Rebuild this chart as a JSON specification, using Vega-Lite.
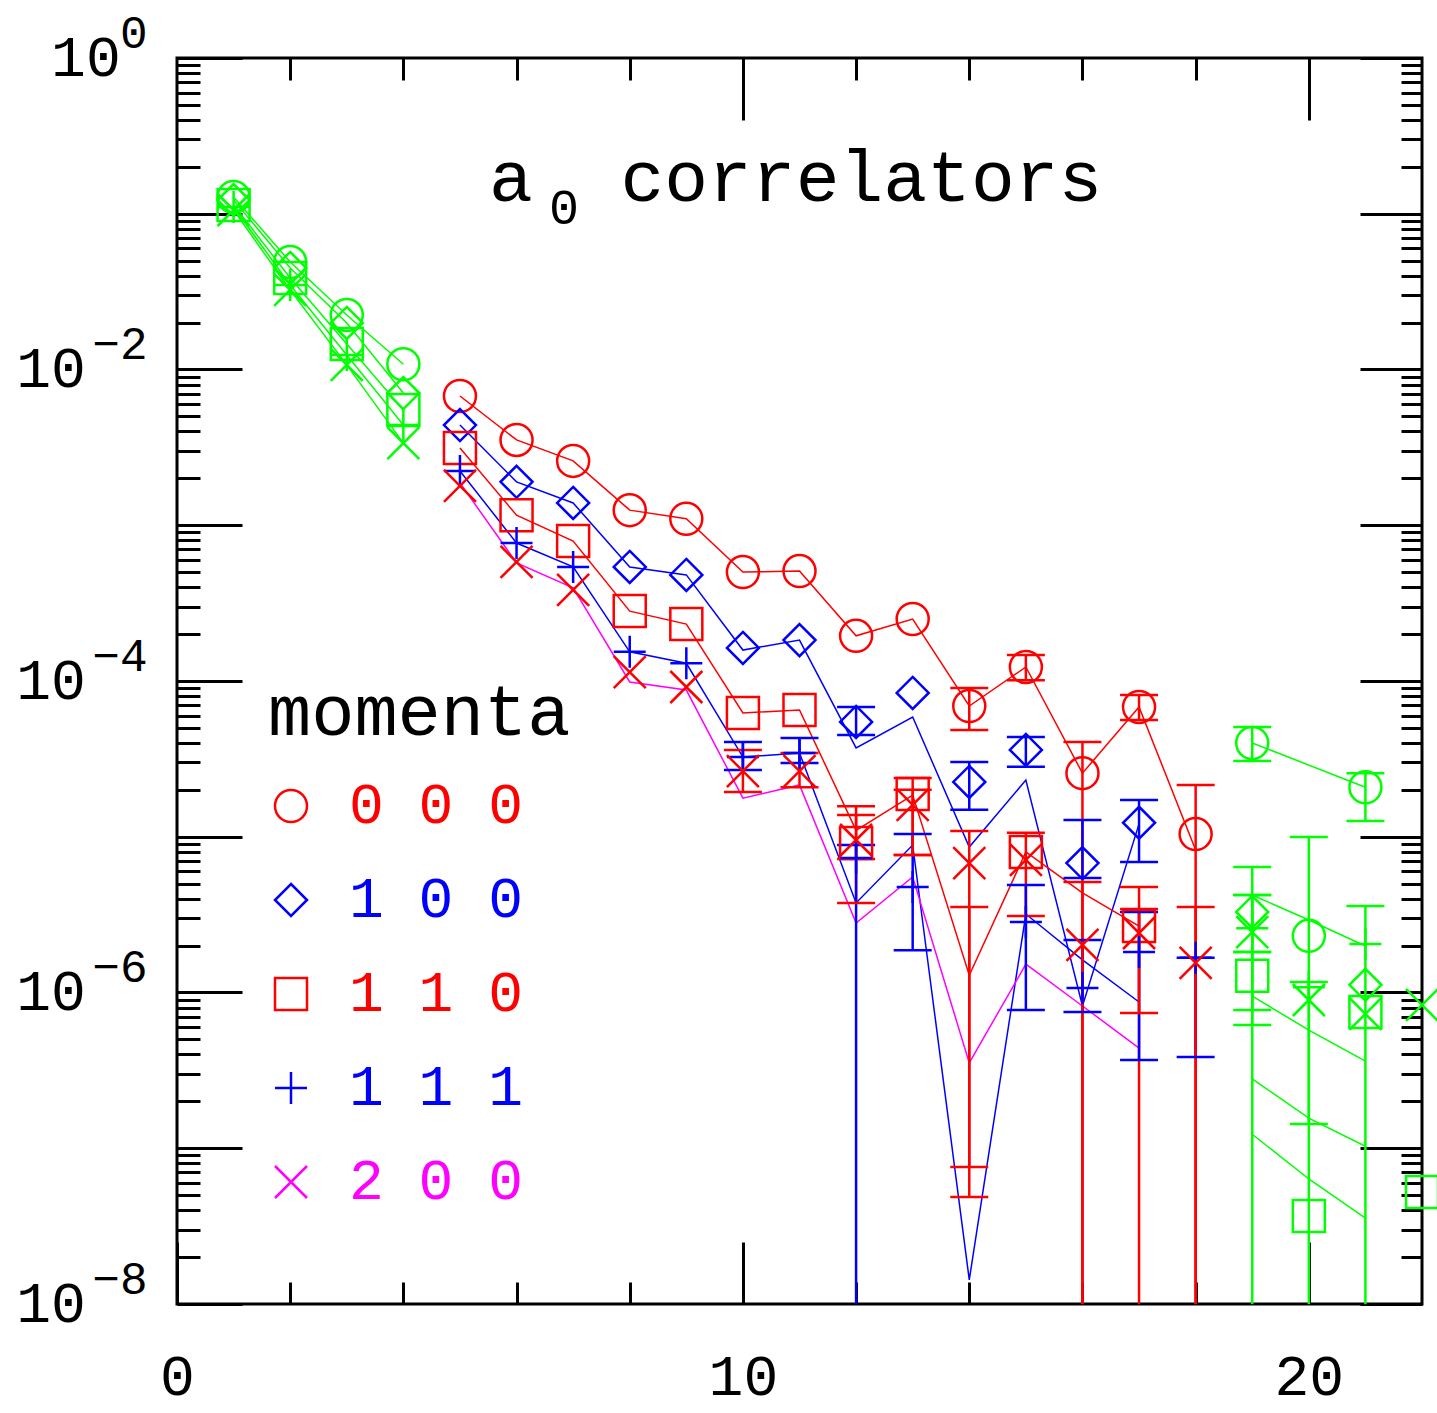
{
  "$schema": "https://vega.github.io/schema/vega-lite/v6.json",
  "width": 1245,
  "height": 1246,
  "autosize": "none",
  "padding": {"left": 177, "top": 58, "right": 15, "bottom": 109},
  "background": "white",
  "title": {
    "text": "a\u00a0\u00a0correlators",
    "subtitle": "\u200b\u00a0\u00a00",
    "anchor": "start",
    "frame": "group",
    "orient": "top",
    "font": "Liberation Mono",
    "fontSize": 73,
    "fontWeight": "normal",
    "color": "black",
    "subtitleFont": "Liberation Mono",
    "subtitleFontSize": 50,
    "subtitleColor": "black",
    "subtitlePadding": -32,
    "offset": -224,
    "dx": 312
  },
  "config": {
    "view": {"stroke": "black", "strokeWidth": 3},
    "axis": {"grid": false, "domain": false, "tickColor": "black", "tickWidth": 3, "labelColor": "black", "labelFont": "Liberation Mono", "labelOverlap": false, "labelFlush": false, "labelBound": false}
  },
  "datasets": {
    "pts": [
      {"s": "0 0 0", "t": 1, "v": 0.128, "seg": "early"},
      {"s": "0 0 0", "t": 2, "v": 0.049, "seg": "early"},
      {"s": "0 0 0", "t": 3, "v": 0.0224, "seg": "early"},
      {"s": "0 0 0", "t": 4, "v": 0.0108, "seg": "early"},
      {"s": "1 0 0", "t": 1, "v": 0.1225, "seg": "early"},
      {"s": "1 0 0", "t": 2, "v": 0.0449, "seg": "early"},
      {"s": "1 0 0", "t": 3, "v": 0.0199, "seg": "early"},
      {"s": "1 0 0", "t": 4, "v": 0.00706, "seg": "early"},
      {"s": "1 1 0", "t": 1, "v": 0.114, "seg": "early"},
      {"s": "1 1 0", "t": 2, "v": 0.0387, "seg": "early"},
      {"s": "1 1 0", "t": 3, "v": 0.0146, "seg": "early"},
      {"s": "1 1 0", "t": 4, "v": 0.0055, "seg": "early"},
      {"s": "1 1 1", "t": 1, "v": 0.1105, "seg": "early"},
      {"s": "1 1 1", "t": 2, "v": 0.0349, "seg": "early"},
      {"s": "1 1 1", "t": 3, "v": 0.0124, "seg": "early"},
      {"s": "1 1 1", "t": 4, "v": 0.0044, "seg": "early"},
      {"s": "2 0 0", "t": 1, "v": 0.1057, "seg": "early"},
      {"s": "2 0 0", "t": 2, "v": 0.0324, "seg": "early"},
      {"s": "2 0 0", "t": 3, "v": 0.0107, "seg": "early"},
      {"s": "2 0 0", "t": 4, "v": 0.00337, "seg": "early"},

      {"s": "0 0 0", "t": 5, "v": 0.00676, "seg": "main"},
      {"s": "0 0 0", "t": 6, "v": 0.00353, "seg": "main"},
      {"s": "0 0 0", "t": 7, "v": 0.00259, "seg": "main"},
      {"s": "0 0 0", "t": 8, "v": 0.00125, "seg": "main"},
      {"s": "0 0 0", "t": 9, "v": 0.0011, "seg": "main"},
      {"s": "0 0 0", "t": 10, "v": 0.000501, "seg": "main"},
      {"s": "0 0 0", "t": 11, "v": 0.000508, "seg": "main"},
      {"s": "0 0 0", "t": 12, "v": 0.000195, "seg": "main"},
      {"s": "0 0 0", "t": 13, "v": 0.00025, "seg": "main"},
      {"s": "0 0 0", "t": 14, "v": 6.91e-5, "hi": 9.02e-5, "lo": 4.84e-5, "seg": "main"},
      {"s": "0 0 0", "t": 15, "v": 0.000123, "hi": 0.000147, "lo": 0.000101, "seg": "main"},
      {"s": "0 0 0", "t": 16, "v": 2.56e-5, "hi": 4.06e-5, "lo": 1e-9, "seg": "main"},
      {"s": "0 0 0", "t": 17, "v": 6.81e-5, "hi": 8.13e-5, "lo": 5.62e-5, "seg": "main"},
      {"s": "0 0 0", "t": 18, "v": 1.04e-5, "hi": 2.15e-5, "lo": 1e-9, "seg": "main"},

      {"s": "1 0 0", "t": 5, "v": 0.0044, "seg": "main"},
      {"s": "1 0 0", "t": 6, "v": 0.0019, "seg": "main"},
      {"s": "1 0 0", "t": 7, "v": 0.00139, "seg": "main"},
      {"s": "1 0 0", "t": 8, "v": 0.00054, "seg": "main"},
      {"s": "1 0 0", "t": 9, "v": 0.00048, "seg": "main"},
      {"s": "1 0 0", "t": 10, "v": 0.000163, "seg": "main"},
      {"s": "1 0 0", "t": 11, "v": 0.000183, "seg": "main"},
      {"s": "1 0 0", "t": 12, "v": 5.46e-5, "hi": 6.81e-5, "lo": 4.5e-5, "seg": "main"},
      {"s": "1 0 0", "t": 13, "v": 8.38e-5, "seg": "main"},
      {"s": "1 0 0", "t": 14, "v": 2.25e-5, "hi": 3.02e-5, "lo": 1.49e-5, "seg": "main"},
      {"s": "1 0 0", "t": 15, "v": 3.61e-5, "hi": 4.37e-5, "lo": 2.81e-5, "seg": "main"},
      {"s": "1 0 0", "t": 16, "v": 6.78e-6, "hi": 1.28e-5, "lo": 5.43e-6, "seg": "main"},
      {"s": "1 0 0", "t": 17, "v": 1.23e-5, "hi": 1.72e-5, "lo": 6.89e-6, "seg": "main"},

      {"s": "1 1 0", "t": 5, "v": 0.00313, "seg": "main"},
      {"s": "1 1 0", "t": 6, "v": 0.00116, "seg": "main"},
      {"s": "1 1 0", "t": 7, "v": 0.000792, "seg": "main"},
      {"s": "1 1 0", "t": 8, "v": 0.000281, "seg": "main"},
      {"s": "1 1 0", "t": 9, "v": 0.000232, "seg": "main"},
      {"s": "1 1 0", "t": 10, "v": 6.23e-5, "seg": "main"},
      {"s": "1 1 0", "t": 11, "v": 6.52e-5, "seg": "main"},
      {"s": "1 1 0", "t": 12, "v": 9.12e-6, "hi": 1.57e-5, "lo": 3.76e-6, "seg": "main"},
      {"s": "1 1 0", "t": 13, "v": 1.88e-5, "hi": 2.38e-5, "lo": 7.64e-6, "seg": "main"},
      {"s": "1 1 0", "t": 14, "v": null, "hi": 3.54e-6, "lo": 7.59e-8, "seg": "main"},
      {"s": "1 1 0", "t": 15, "v": 7.98e-6, "hi": 1.06e-5, "lo": 3.1e-6, "seg": "main"},
      {"s": "1 1 0", "t": 17, "v": 2.67e-6, "hi": 4.75e-6, "lo": 1e-9, "seg": "main"},

      {"s": "1 1 1", "t": 5, "v": 0.00223, "seg": "main"},
      {"s": "1 1 1", "t": 6, "v": 0.000769, "seg": "main"},
      {"s": "1 1 1", "t": 7, "v": 0.00054, "seg": "main"},
      {"s": "1 1 1", "t": 8, "v": 0.000154, "seg": "main"},
      {"s": "1 1 1", "t": 9, "v": 0.00013, "seg": "main"},
      {"s": "1 1 1", "t": 10, "v": 3.25e-5, "hi": 4.06e-5, "lo": 2.68e-5, "seg": "main"},
      {"s": "1 1 1", "t": 11, "v": 3.45e-5, "hi": 4.31e-5, "lo": 2.98e-5, "seg": "main"},
      {"s": "1 1 1", "t": 12, "v": 7.31e-6, "hi": 8.85e-6, "lo": 1e-9, "seg": "main"},
      {"s": "1 1 1", "t": 13, "v": 4.75e-6, "hi": 1.04e-5, "lo": 1.87e-6, "seg": "main"},
      {"s": "1 1 1", "t": 15, "v": 2.84e-6, "hi": 4.9e-6, "lo": 7.72e-7, "seg": "main"},
      {"s": "1 1 1", "t": 16, "v": 1.07e-6, "hi": 2.17e-6, "lo": 7.5e-7, "seg": "main"},
      {"s": "1 1 1", "t": 17, "v": 1.82e-6, "hi": 3.29e-6, "lo": 3.69e-7, "seg": "main"},
      {"s": "1 1 1", "t": 18, "v": 1.67e-6, "hi": 1.67e-6, "lo": 3.85e-7, "seg": "main"},

      {"s": "2 0 0", "t": 5, "v": 0.00179, "seg": "main"},
      {"s": "2 0 0", "t": 6, "v": 0.000581, "seg": "main"},
      {"s": "2 0 0", "t": 7, "v": 0.000384, "seg": "main"},
      {"s": "2 0 0", "t": 8, "v": 0.000114, "seg": "main"},
      {"s": "2 0 0", "t": 9, "v": 9.15e-5, "seg": "main"},
      {"s": "2 0 0", "t": 10, "v": 2.64e-5, "hi": 3.61e-5, "lo": 1.94e-5, "seg": "main"},
      {"s": "2 0 0", "t": 11, "v": 2.64e-5, "hi": 3.45e-5, "lo": 2.08e-5, "seg": "main"},
      {"s": "2 0 0", "t": 12, "v": 9.53e-6, "hi": 1.38e-5, "lo": 7.19e-6, "seg": "main"},
      {"s": "2 0 0", "t": 13, "v": 1.6e-5, "hi": 2e-5, "lo": 7.64e-6, "seg": "main"},
      {"s": "2 0 0", "t": 14, "v": 6.78e-6, "hi": 1.09e-5, "lo": 4.86e-8, "seg": "main"},
      {"s": "2 0 0", "t": 15, "v": 7.1e-6, "seg": "main"},
      {"s": "2 0 0", "t": 16, "v": 2.02e-6, "hi": 5.12e-6, "lo": 1e-9, "seg": "main"},
      {"s": "2 0 0", "t": 17, "v": 2.41e-6, "hi": 3.44e-6, "lo": 7.38e-7, "seg": "main"},
      {"s": "2 0 0", "t": 18, "v": 1.55e-6, "hi": 3.54e-6, "lo": 1e-9, "seg": "main"},

      {"s": "0 0 0", "t": 19, "v": 4.0e-5, "hi": 5.07e-5, "lo": 3.06e-5, "seg": "late"},
      {"s": "0 0 0", "t": 20, "v": 2.31e-6, "seg": "late"},
      {"s": "0 0 0", "t": 21, "v": 2.08e-5, "hi": 2.56e-5, "lo": 1.26e-5, "seg": "late"},
      {"s": "1 0 0", "t": 19, "v": 3.29e-6, "hi": 4.23e-6, "lo": 1.82e-6, "seg": "late"},
      {"s": "1 0 0", "t": 21, "v": 1.12e-6, "seg": "late"},
      {"s": "1 1 0", "t": 19, "v": 1.28e-6, "hi": 1.82e-6, "lo": 7.72e-7, "seg": "late"},
      {"s": "1 1 0", "t": 20, "v": 3.67e-8, "seg": "late"},
      {"s": "1 1 0", "t": 21, "v": 7.5e-7, "seg": "late"},
      {"s": "1 1 0", "t": 22, "v": 5.24e-8, "seg": "late"},
      {"s": "1 1 1", "t": 19, "v": 2.59e-6, "hi": 6.4e-6, "lo": 1e-9, "seg": "late"},
      {"s": "1 1 1", "t": 20, "v": 1.08e-6, "hi": 9.95e-6, "lo": 1e-9, "seg": "late"},
      {"s": "1 1 1", "t": 21, "v": 2.05e-6, "hi": 3.59e-6, "lo": 1e-9, "seg": "late"},
      {"s": "2 0 0", "t": 19, "v": 2.44e-6, "hi": 4.23e-6, "lo": 6.18e-7, "seg": "late"},
      {"s": "2 0 0", "t": 20, "v": 8.95e-7, "hi": 1.17e-6, "lo": 1.43e-7, "seg": "late"},
      {"s": "2 0 0", "t": 21, "v": 7.28e-7, "seg": "late"},
      {"s": "2 0 0", "t": 22, "v": 8.32e-7, "seg": "late"}
    ],
    "lines": [
      {"s": "0 0 0", "t": 1, "v": 0.128, "seg": "early"},
      {"s": "0 0 0", "t": 2, "v": 0.049, "seg": "early"},
      {"s": "0 0 0", "t": 3, "v": 0.0224, "seg": "early"},
      {"s": "0 0 0", "t": 4, "v": 0.0108, "seg": "early"},
      {"s": "1 0 0", "t": 1, "v": 0.1225, "seg": "early"},
      {"s": "1 0 0", "t": 2, "v": 0.0449, "seg": "early"},
      {"s": "1 0 0", "t": 3, "v": 0.0199, "seg": "early"},
      {"s": "1 0 0", "t": 4, "v": 0.00706, "seg": "early"},
      {"s": "1 1 0", "t": 1, "v": 0.114, "seg": "early"},
      {"s": "1 1 0", "t": 2, "v": 0.0387, "seg": "early"},
      {"s": "1 1 0", "t": 3, "v": 0.0146, "seg": "early"},
      {"s": "1 1 0", "t": 4, "v": 0.0055, "seg": "early"},
      {"s": "1 1 1", "t": 1, "v": 0.1105, "seg": "early"},
      {"s": "1 1 1", "t": 2, "v": 0.0349, "seg": "early"},
      {"s": "1 1 1", "t": 3, "v": 0.0124, "seg": "early"},
      {"s": "1 1 1", "t": 4, "v": 0.0044, "seg": "early"},
      {"s": "2 0 0", "t": 1, "v": 0.1057, "seg": "early"},
      {"s": "2 0 0", "t": 2, "v": 0.0324, "seg": "early"},
      {"s": "2 0 0", "t": 3, "v": 0.0107, "seg": "early"},
      {"s": "2 0 0", "t": 4, "v": 0.00337, "seg": "early"},

      {"s": "0 0 0", "t": 5, "v": 0.00676, "seg": "main"},
      {"s": "0 0 0", "t": 6, "v": 0.00353, "seg": "main"},
      {"s": "0 0 0", "t": 7, "v": 0.00259, "seg": "main"},
      {"s": "0 0 0", "t": 8, "v": 0.00125, "seg": "main"},
      {"s": "0 0 0", "t": 9, "v": 0.0011, "seg": "main"},
      {"s": "0 0 0", "t": 10, "v": 0.000501, "seg": "main"},
      {"s": "0 0 0", "t": 11, "v": 0.000508, "seg": "main"},
      {"s": "0 0 0", "t": 12, "v": 0.000195, "seg": "main"},
      {"s": "0 0 0", "t": 13, "v": 0.00025, "seg": "main"},
      {"s": "0 0 0", "t": 14, "v": 6.91e-5, "seg": "main"},
      {"s": "0 0 0", "t": 15, "v": 0.000123, "seg": "main"},
      {"s": "0 0 0", "t": 16, "v": 2.56e-5, "seg": "main"},
      {"s": "0 0 0", "t": 17, "v": 6.81e-5, "seg": "main"},
      {"s": "0 0 0", "t": 18, "v": 8.22e-6, "seg": "main"},

      {"s": "1 0 0", "t": 5, "v": 0.0044, "seg": "main"},
      {"s": "1 0 0", "t": 6, "v": 0.0019, "seg": "main"},
      {"s": "1 0 0", "t": 7, "v": 0.00139, "seg": "main"},
      {"s": "1 0 0", "t": 8, "v": 0.00054, "seg": "main"},
      {"s": "1 0 0", "t": 9, "v": 0.00048, "seg": "main"},
      {"s": "1 0 0", "t": 10, "v": 0.000158, "seg": "main"},
      {"s": "1 0 0", "t": 11, "v": 0.000183, "seg": "main"},
      {"s": "1 0 0", "t": 12, "v": 3.72e-5, "seg": "main"},
      {"s": "1 0 0", "t": 13, "v": 5.87e-5, "seg": "main"},
      {"s": "1 0 0", "t": 14, "v": 8.59e-6, "seg": "main"},
      {"s": "1 0 0", "t": 15, "v": 2.31e-5, "seg": "main"},
      {"s": "1 0 0", "t": 16, "v": 8.19e-7, "seg": "main"},
      {"s": "1 0 0", "t": 17, "v": 1.21e-5, "seg": "main"},

      {"s": "1 1 0", "t": 5, "v": 0.00313, "seg": "main"},
      {"s": "1 1 0", "t": 6, "v": 0.00116, "seg": "main"},
      {"s": "1 1 0", "t": 7, "v": 0.000792, "seg": "main"},
      {"s": "1 1 0", "t": 8, "v": 0.000281, "seg": "main"},
      {"s": "1 1 0", "t": 9, "v": 0.000232, "seg": "main"},
      {"s": "1 1 0", "t": 10, "v": 6.23e-5, "seg": "main"},
      {"s": "1 1 0", "t": 11, "v": 6.52e-5, "seg": "main"},
      {"s": "1 1 0", "t": 12, "v": 1.1e-5, "seg": "main"},
      {"s": "1 1 0", "t": 13, "v": 1.85e-5, "seg": "main"},
      {"s": "1 1 0", "t": 14, "v": 1.29e-6, "seg": "main"},
      {"s": "1 1 0", "t": 15, "v": 7.98e-6, "seg": "main"},
      {"s": "1 1 0", "t": 16, "v": 4.36e-6, "seg": "main"},
      {"s": "1 1 0", "t": 17, "v": 2.67e-6, "seg": "main"},

      {"s": "1 1 1", "t": 5, "v": 0.00223, "seg": "main"},
      {"s": "1 1 1", "t": 6, "v": 0.000769, "seg": "main"},
      {"s": "1 1 1", "t": 7, "v": 0.00054, "seg": "main"},
      {"s": "1 1 1", "t": 8, "v": 0.000154, "seg": "main"},
      {"s": "1 1 1", "t": 9, "v": 0.00013, "seg": "main"},
      {"s": "1 1 1", "t": 10, "v": 3.25e-5, "seg": "main"},
      {"s": "1 1 1", "t": 11, "v": 3.45e-5, "seg": "main"},
      {"s": "1 1 1", "t": 12, "v": 3.76e-6, "seg": "main"},
      {"s": "1 1 1", "t": 13, "v": 8.85e-6, "seg": "main"},
      {"s": "1 1 1", "t": 14, "v": 1.43e-8, "seg": "main"},
      {"s": "1 1 1", "t": 15, "v": 3.19e-6, "seg": "main"},
      {"s": "1 1 1", "t": 16, "v": 1.62e-6, "seg": "main"},
      {"s": "1 1 1", "t": 17, "v": 8.69e-7, "seg": "main"},

      {"s": "2 0 0", "t": 5, "v": 0.00187, "seg": "main"},
      {"s": "2 0 0", "t": 6, "v": 0.000573, "seg": "main"},
      {"s": "2 0 0", "t": 7, "v": 0.000396, "seg": "main"},
      {"s": "2 0 0", "t": 8, "v": 9.86e-5, "seg": "main"},
      {"s": "2 0 0", "t": 9, "v": 8.75e-5, "seg": "main"},
      {"s": "2 0 0", "t": 10, "v": 1.77e-5, "seg": "main"},
      {"s": "2 0 0", "t": 11, "v": 2.15e-5, "seg": "main"},
      {"s": "2 0 0", "t": 12, "v": 2.79e-6, "seg": "main"},
      {"s": "2 0 0", "t": 13, "v": 5.52e-6, "seg": "main"},
      {"s": "2 0 0", "t": 14, "v": 3.53e-7, "seg": "main"},
      {"s": "2 0 0", "t": 15, "v": 1.52e-6, "seg": "main"},
      {"s": "2 0 0", "t": 16, "v": 8.19e-7, "seg": "main"},
      {"s": "2 0 0", "t": 17, "v": 4.4e-7, "seg": "main"},

      {"s": "0 0 0", "t": 19, "v": 4.0e-5, "seg": "late"},
      {"s": "0 0 0", "t": 21, "v": 2.08e-5, "seg": "late"},
      {"s": "1 0 0", "t": 19, "v": 4.23e-6, "seg": "late"},
      {"s": "1 0 0", "t": 20, "v": 2.92e-6, "seg": "late"},
      {"s": "1 0 0", "t": 21, "v": 1.99e-6, "seg": "late"},
      {"s": "1 1 0", "t": 19, "v": 9.48e-7, "seg": "late"},
      {"s": "1 1 0", "t": 20, "v": 5.74e-7, "seg": "late"},
      {"s": "1 1 0", "t": 21, "v": 3.63e-7, "seg": "late"},
      {"s": "1 1 1", "t": 19, "v": 2.79e-7, "seg": "late"},
      {"s": "1 1 1", "t": 20, "v": 1.56e-7, "seg": "late"},
      {"s": "1 1 1", "t": 21, "v": 1.03e-7, "seg": "late"},
      {"s": "2 0 0", "t": 19, "v": 1.23e-7, "seg": "late"},
      {"s": "2 0 0", "t": 20, "v": 6.35e-8, "seg": "late"},
      {"s": "2 0 0", "t": 21, "v": 3.56e-8, "seg": "late"}
    ]
  },
  "resolve": {"axis": {"x": "independent", "y": "independent"}, "legend": {"color": "independent", "shape": "independent"}},
  "layer": [
    {
      "data": {"name": "lines"},
      "mark": {"type": "line", "strokeWidth": 1.5, "clip": false},
      "encoding": {
        "x": {"field": "t", "type": "quantitative", "scale": {"domain": [0, 22], "nice": false, "zero": false},
              "axis": {"orient": "bottom", "title": null, "values": [0, 10, 20], "tickSize": 62, "offset": -62, "labelPadding": 44, "labelFontSize": 58, "format": "d"}},
        "y": {"field": "v", "type": "quantitative", "scale": {"type": "log", "domain": [1e-8, 1], "nice": false},
              "axis": {"orient": "left", "title": null, "values": [1, 0.1, 0.01, 0.001, 0.0001, 1e-5, 1e-6, 1e-7, 1e-8], "tickSize": 65, "offset": -65, "labelPadding": 22, "labelFontSize": 58, "labelAlign": "right", "labelBaseline": "middle",
                       "labelExpr": "(abs(round(log(datum.value)/LN10)) % 2 == 1) ? '' : (datum.value > 0.5 ? '10\u00a0\u200b' : '10\u00a0\u00a0\u200b')"}},
        "color": {"field": "s", "type": "nominal", "legend": null,
                  "scale": {"domain": ["0 0 0", "1 0 0", "1 1 0", "1 1 1", "2 0 0"], "range": ["#ff0000", "#0000ff", "#ff0000", "#0000ff", "#ff00ff"]},
                  "condition": {"test": "datum.seg !== 'main'", "value": "#00ff00"}},
        "detail": {"field": "seg", "type": "nominal"}
      }
    },
    {
      "data": {"name": "pts"},
      "transform": [{"filter": "isValid(datum.hi)"}],
      "mark": {"type": "rule", "strokeWidth": 2.5, "clip": true},
      "encoding": {
        "x": {"field": "t", "type": "quantitative", "scale": {"domain": [0, 22], "nice": false, "zero": false},
              "axis": {"orient": "bottom", "title": null, "values": [2, 4, 6, 8, 12, 14, 16, 18], "tickSize": 22, "offset": -22, "labels": false}},
        "y": {"field": "hi", "type": "quantitative", "scale": {"type": "log", "domain": [1e-8, 1], "nice": false},
              "axis": {"orient": "left", "title": null, "labels": false, "tickSize": 23, "offset": -23,
                       "values": [0.9,0.8,0.7,0.6,0.5,0.4,0.3,0.2,0.09,0.08,0.07,0.06,0.05,0.04,0.03,0.02,0.009,0.008,0.007,0.006,0.005,0.004,0.003,0.002,0.0009,0.0008,0.0007,0.0006,0.0005,0.0004,0.0003,0.0002,9e-5,8e-5,7e-5,6e-5,5e-5,4e-5,3e-5,2e-5,9e-6,8e-6,7e-6,6e-6,5e-6,4e-6,3e-6,2e-6,9e-7,8e-7,7e-7,6e-7,5e-7,4e-7,3e-7,2e-7,9e-8,8e-8,7e-8,6e-8,5e-8,4e-8,3e-8,2e-8]}},
        "y2": {"field": "lo"},
        "color": {"field": "s", "type": "nominal", "legend": null,
                  "scale": {"domain": ["0 0 0", "1 0 0", "1 1 0", "1 1 1", "2 0 0"], "range": ["#ff0000", "#0000ff", "#ff0000", "#0000ff", "#ff00ff"]},
                  "condition": [{"test": "datum.seg !== 'main'", "value": "#00ff00"}, {"test": "datum.s === '2 0 0'", "value": "#ff0000"}]}
      }
    },
    {
      "data": {"name": "pts"},
      "transform": [{"filter": "isValid(datum.hi)"}],
      "mark": {"type": "tick", "orient": "horizontal", "size": 38, "thickness": 2.5, "clip": true, "opacity": 1},
      "encoding": {
        "x": {"field": "t", "type": "quantitative", "scale": {"domain": [0, 22], "nice": false, "zero": false},
              "axis": {"orient": "top", "title": null, "values": [10, 20], "tickSize": 62, "offset": -62, "labels": false}},
        "y": {"field": "hi", "type": "quantitative", "scale": {"type": "log", "domain": [1e-8, 1], "nice": false},
              "axis": {"orient": "right", "title": null, "labels": false, "tickSize": 62, "offset": -62, "values": [1, 0.1, 0.01, 0.001, 0.0001, 1e-5, 1e-6, 1e-7, 1e-8]}},
        "color": {"field": "s", "type": "nominal", "legend": null,
                  "scale": {"domain": ["0 0 0", "1 0 0", "1 1 0", "1 1 1", "2 0 0"], "range": ["#ff0000", "#0000ff", "#ff0000", "#0000ff", "#ff00ff"]},
                  "condition": [{"test": "datum.seg !== 'main'", "value": "#00ff00"}, {"test": "datum.s === '2 0 0'", "value": "#ff0000"}]}
      }
    },
    {
      "data": {"name": "pts"},
      "transform": [{"filter": "isValid(datum.lo)"}],
      "mark": {"type": "tick", "orient": "horizontal", "size": 38, "thickness": 2.5, "clip": true, "opacity": 1},
      "encoding": {
        "x": {"field": "t", "type": "quantitative", "scale": {"domain": [0, 22], "nice": false, "zero": false}, "axis": null},
        "y": {"field": "lo", "type": "quantitative", "scale": {"type": "log", "domain": [1e-8, 1], "nice": false},
              "axis": {"orient": "left", "title": null, "ticks": false, "tickSize": 0, "labelPadding": 30, "labelFontSize": 46, "labelOffset": -25, "labelAlign": "right", "labelBaseline": "middle",
                       "values": [1, 0.01, 0.0001, 1e-6, 1e-8],
                       "labelExpr": "datum.value > 0.5 ? '0' : '\u2212' + format(-round(log(datum.value)/LN10), 'd')"}},
        "color": {"field": "s", "type": "nominal", "legend": null,
                  "scale": {"domain": ["0 0 0", "1 0 0", "1 1 0", "1 1 1", "2 0 0"], "range": ["#ff0000", "#0000ff", "#ff0000", "#0000ff", "#ff00ff"]},
                  "condition": [{"test": "datum.seg !== 'main'", "value": "#00ff00"}, {"test": "datum.s === '2 0 0'", "value": "#ff0000"}]}
      }
    },
    {
      "data": {"name": "pts"},
      "transform": [{"filter": "isValid(datum.v)"}],
      "mark": {"type": "point", "filled": false, "size": 1024, "strokeWidth": 2.5, "opacity": 1, "clip": false},
      "encoding": {
        "x": {"field": "t", "type": "quantitative", "scale": {"domain": [0, 22], "nice": false, "zero": false},
              "axis": {"orient": "top", "title": null, "values": [2, 4, 6, 8, 12, 14, 16, 18], "tickSize": 22, "offset": -22, "labels": false}},
        "y": {"field": "v", "type": "quantitative", "scale": {"type": "log", "domain": [1e-8, 1], "nice": false},
              "axis": {"orient": "right", "title": null, "labels": false, "tickSize": 21, "offset": -21,
                       "values": [0.9,0.8,0.7,0.6,0.5,0.4,0.3,0.2,0.09,0.08,0.07,0.06,0.05,0.04,0.03,0.02,0.009,0.008,0.007,0.006,0.005,0.004,0.003,0.002,0.0009,0.0008,0.0007,0.0006,0.0005,0.0004,0.0003,0.0002,9e-5,8e-5,7e-5,6e-5,5e-5,4e-5,3e-5,2e-5,9e-6,8e-6,7e-6,6e-6,5e-6,4e-6,3e-6,2e-6,9e-7,8e-7,7e-7,6e-7,5e-7,4e-7,3e-7,2e-7,9e-8,8e-8,7e-8,6e-8,5e-8,4e-8,3e-8,2e-8]}},
        "color": {"field": "s", "type": "nominal",
                  "scale": {"domain": ["0 0 0", "1 0 0", "1 1 0", "1 1 1", "2 0 0"], "range": ["#ff0000", "#0000ff", "#ff0000", "#0000ff", "#ff00ff"]},
                  "condition": [{"test": "datum.seg !== 'main'", "value": "#00ff00"}, {"test": "datum.s === '2 0 0'", "value": "#ff0000"}],
                  "legend": {"title": "momenta", "orient": "none", "legendX": 91, "legendY": 620, "padding": 0,
                             "titleFont": "Liberation Mono", "titleFontSize": 72, "titleFontWeight": "normal", "titleColor": "black", "titlePadding": 27, "titleLimit": 1000,
                             "labelFont": "Liberation Mono", "labelFontSize": 58, "labelOffset": 29, "labelLimit": 1000,
                             "labelColor": {"expr": "scale('color', datum.value)"},
                             "symbolSize": 1024, "symbolStrokeWidth": 2.5, "symbolOffset": -6, "rowPadding": 36}},
        "shape": {"field": "s", "type": "nominal",
                  "scale": {"domain": ["0 0 0", "1 0 0", "1 1 0", "1 1 1", "2 0 0"], "range": ["circle", "M0,-1L1,0L0,1L-1,0Z", "M-1,-1L1,-1L1,1L-1,1Z", "M-1,0L1,0M0,-1L0,1", "M-1,-1L1,1M-1,1L1,-1"]},
                  "legend": {"title": "momenta", "orient": "none", "legendX": 91, "legendY": 620, "padding": 0,
                             "titleFont": "Liberation Mono", "titleFontSize": 72, "titleFontWeight": "normal", "titleColor": "black", "titlePadding": 27, "titleLimit": 1000,
                             "labelFont": "Liberation Mono", "labelFontSize": 58, "labelOffset": 29, "labelLimit": 1000,
                             "labelColor": {"expr": "scale('color', datum.value)"},
                             "symbolSize": 1024, "symbolStrokeWidth": 2.5, "symbolOffset": -6, "rowPadding": 36}}
      }
    }
  ]
}
